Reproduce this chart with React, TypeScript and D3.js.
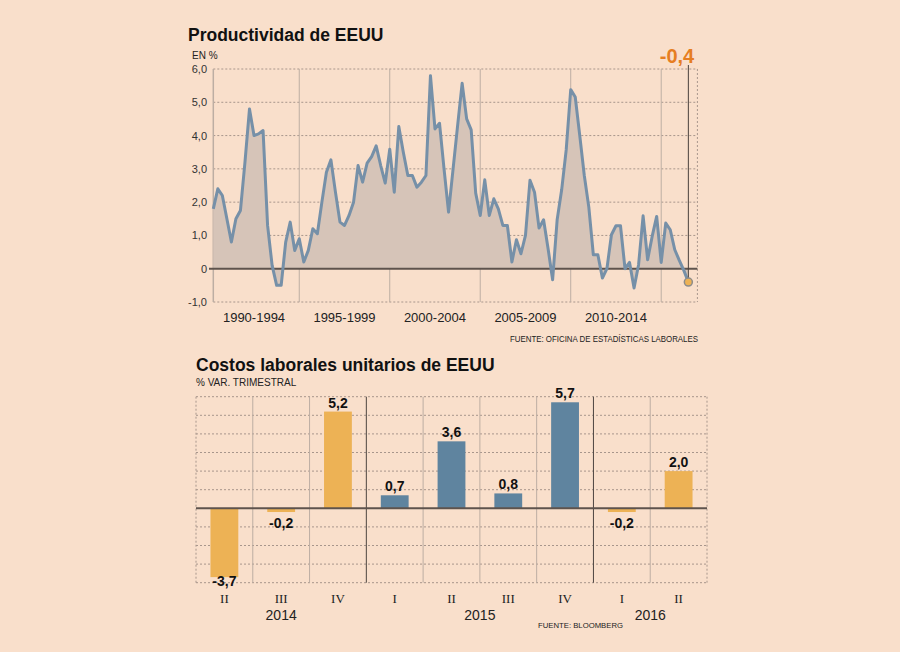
import React from "react";
import * as d3 from "d3";

// ---------- DATA ----------
// Productividad de EEUU, quarterly, from 1990 Q1 to 2016 Q2 (% )
const prodStartYear = 1990;
const productividad = [
  1.8, 2.4, 2.2, 1.5, 0.8, 1.5, 1.75, 3.2, 4.8, 4.0, 4.05, 4.15, 1.3, 0.1, -0.5, -0.5, 0.8, 1.4, 0.55, 0.9,
  0.2, 0.55, 1.2, 1.05, 2.0, 2.9, 3.27, 2.3, 1.4, 1.3, 1.6, 2.0, 3.1, 2.6, 3.17, 3.37, 3.69, 3.1, 2.57, 3.59,
  2.3, 4.27, 3.5, 2.8, 2.8, 2.45, 2.6, 2.8, 5.8, 4.2, 4.37, 3.0, 1.7, 3.0, 4.3, 5.57, 4.5, 4.17, 2.27, 1.6,
  2.67, 1.6, 2.1, 1.8, 1.3, 1.3, 0.2, 0.87, 0.45, 1.0, 2.66, 2.3, 1.22, 1.47, 0.6, -0.33, 1.47, 2.37, 3.57, 5.38,
  5.16, 4.0, 2.8, 1.85, 0.42, 0.42, -0.28, 0.0, 1.02, 1.29, 1.29, 0.0, 0.19, -0.58, 0.12, 1.59, 0.27, 0.97, 1.57, 0.19,
  1.37, 1.17, 0.57, 0.25, -0.05, -0.4,
];
const periodStarts = [1990, 1995, 2000, 2005, 2010];
const periodLabels = ["1990-1994", "1995-1999", "2000-2004", "2005-2009", "2010-2014"];
const periodBoundaries = [1995, 2000, 2005, 2010, 2015];
const prodTicks = [6, 5, 4, 3, 2, 1, 0, -1];
const prodTickLabels = ["6,0", "5,0", "4,0", "3,0", "2,0", "1,0", "0", "-1,0"];

// Costos laborales unitarios de EEUU (% var. trimestral)
const costQuarters = ["II", "III", "IV", "I", "II", "III", "IV", "I", "II"];
const costYears = [2014, 2014, 2014, 2015, 2015, 2015, 2015, 2016, 2016];
const costos = [-3.7, -0.2, 5.2, 0.7, 3.6, 0.8, 5.7, -0.2, 2.0];
const costGrid = [-4, -3, -2, -1, 1, 2, 3, 4, 5, 6];
const highlightYear = 2015;

// ---------- STYLE ----------
const BG = "#F9DFCB";
const FONT = "'Liberation Sans', Arial, sans-serif";
const SERIF = "'Liberation Serif', 'Times New Roman', serif";
const GRID = "#A8968C";
const VLINE = "#BDAEA3";
const DARK = "#5E534D";
const LINE = "#7690A8";
const AREA = "#D6C4B8";
const ORANGE = "#EDB255";
const BLUE = "#5F849F";
const HIGHLIGHT = "#E67E22";

const fmt = (v: number) => d3.format(".1f")(v).replace(".", ",").replace("−", "-");

export default function App() {
  // ----- top chart -----
  const tOf = (i: number) => prodStartYear + (i + 1) / 4;
  const xT = d3.scaleLinear().domain([1990.25, 2017]).range([213.3, 697.4]);
  const yT = d3.scaleLinear().domain([-1, 6]).range([302, 69]);
  const left = xT(1990.25);
  const right = xT(2017);
  const area = d3
    .area<number>()
    .x((_, i) => xT(tOf(i)))
    .y0(yT(0))
    .y1((d) => yT(d));
  const line = d3
    .line<number>()
    .x((_, i) => xT(tOf(i)))
    .y((d) => yT(d));
  const lastI = productividad.length - 1;
  const lastX = xT(tOf(lastI));
  const lastY = yT(productividad[lastI]);

  // ----- bottom chart -----
  const idx = costos.map((_, i) => i);
  const xB = d3.scaleBand<number>().domain(idx).range([196, 707]);
  const bw = xB.bandwidth();
  const barW = bw * 0.49;
  const yB = d3.scaleLinear().domain([-4, 6]).range([582.7, 396.7]);
  const years = Array.from(new Set(costYears));
  const yearCenter = (yr: number) =>
    d3.mean(idx.filter((i) => costYears[i] === yr).map((i) => (xB(i) as number) + bw / 2)) as number;
  const yearStarts = idx.filter((i) => i > 0 && costYears[i] !== costYears[i - 1]);

  return (
    <svg
      width={900}
      height={652}
      style={{ position: "absolute", left: 0, top: 0, display: "block" }}
      fontFamily={FONT}
    >
      <rect x={0} y={0} width={900} height={652} fill={BG} />

      {/* ===== TOP CHART ===== */}
      <text x={188} y={41} fontSize={17.5} fontWeight="bold" fill="#111">
        Productividad de EEUU
      </text>
      <text x={192} y={58.5} fontSize={10} fill="#222">
        EN %
      </text>

      {prodTicks
        .filter((t) => t !== 0)
        .map((t) => (
          <line key={"hg" + t} x1={left} x2={right} y1={yT(t)} y2={yT(t)} stroke={GRID} strokeDasharray="2,2" strokeWidth={1} />
        ))}
      <line x1={left} x2={left} y1={yT(6)} y2={yT(-1)} stroke={VLINE} strokeWidth={1.5} />
      {periodBoundaries.map((b) => (
        <line key={"vb" + b} x1={xT(b)} x2={xT(b)} y1={yT(6)} y2={yT(-1)} stroke={VLINE} strokeWidth={1} />
      ))}
      <line x1={right} x2={right} y1={yT(6)} y2={yT(-1)} stroke={GRID} strokeDasharray="2,2" strokeWidth={1} />

      <path d={area(productividad) as string} fill={AREA} />
      <line x1={209} x2={right} y1={yT(0)} y2={yT(0)} stroke={DARK} strokeWidth={2} />
      <path d={line(productividad) as string} fill="none" stroke={LINE} strokeWidth={3} strokeLinejoin="round" />

      {prodTicks.map((t, i) => (
        <text key={"tl" + t} x={207} y={yT(t) + 4} fontSize={11} textAnchor="end" fill="#333">
          {prodTickLabels[i]}
        </text>
      ))}

      {periodStarts.map((s, i) => (
        <text key={"pl" + s} x={xT(s + 2.5)} y={321.5} fontSize={13} textAnchor="middle" fill="#222">
          {periodLabels[i]}
        </text>
      ))}
      <text x={698} y={341.5} fontSize={9.5} textAnchor="end" fill="#222" textLength={188} lengthAdjust="spacingAndGlyphs">
        FUENTE: OFICINA DE ESTADÍSTICAS LABORALES
      </text>

      <line x1={lastX} x2={lastX} y1={65} y2={lastY} stroke="#4A403B" strokeWidth={1} />
      <circle cx={lastX} cy={lastY} r={4} fill={ORANGE} stroke="#8C8C8C" strokeWidth={1.5} />
      <text x={677} y={63} fontSize={20} fontWeight="bold" textAnchor="middle" fill={HIGHLIGHT}>
        {fmt(productividad[lastI])}
      </text>

      {/* ===== BOTTOM CHART ===== */}
      <text x={196} y={371} fontSize={17.5} fontWeight="bold" fill="#111">
        Costos laborales unitarios de EEUU
      </text>
      <text x={196} y={386} fontSize={10} fill="#222">
        % VAR. TRIMESTRAL
      </text>

      {costGrid.map((g) => (
        <line key={"bg" + g} x1={196} x2={707} y1={yB(g)} y2={yB(g)} stroke={GRID} strokeDasharray="2,2" strokeWidth={1} />
      ))}
      {idx.slice(1).map((i) =>
        yearStarts.includes(i) ? null : (
          <line key={"bv" + i} x1={xB(i)} x2={xB(i)} y1={yB(6)} y2={yB(-4)} stroke={VLINE} strokeWidth={1} />
        )
      )}
      <line x1={196} x2={196} y1={yB(6)} y2={yB(-4)} stroke={GRID} strokeDasharray="2,2" strokeWidth={1} />
      <line x1={707} x2={707} y1={yB(6)} y2={yB(-4)} stroke={GRID} strokeDasharray="2,2" strokeWidth={1} />
      {yearStarts.map((i) => (
        <line key={"yd" + i} x1={xB(i)} x2={xB(i)} y1={yB(6)} y2={yB(-4)} stroke="#4D4540" strokeWidth={1} />
      ))}

      {costos.map((v, i) => {
        const cx = (xB(i) as number) + bw / 2;
        return (
          <rect
            key={"bar" + i}
            x={cx - barW / 2}
            y={Math.min(yB(v), yB(0))}
            width={barW}
            height={Math.abs(yB(v) - yB(0))}
            fill={costYears[i] === highlightYear ? BLUE : ORANGE}
          />
        );
      })}
      <line x1={196} x2={707} y1={yB(0)} y2={yB(0)} stroke={DARK} strokeWidth={2} />

      {costos.map((v, i) => {
        const cx = (xB(i) as number) + bw / 2;
        const y = v >= 0 ? yB(v) - 4 : Math.min(yB(v) + 16, 586);
        return (
          <text key={"vl" + i} x={cx} y={y} fontSize={14} fontWeight="bold" textAnchor="middle" fill="#111">
            {fmt(v)}
          </text>
        );
      })}

      {costQuarters.map((q, i) => (
        <text key={"q" + i} x={(xB(i) as number) + bw / 2} y={603} fontSize={13} fontFamily={SERIF} textAnchor="middle" fill="#222">
          {q}
        </text>
      ))}
      {years.map((yr) => (
        <text key={"y" + yr} x={yearCenter(yr)} y={620} fontSize={14} textAnchor="middle" fill="#222">
          {yr}
        </text>
      ))}
      <text x={538} y={628} fontSize={8} fill="#222" textLength={85} lengthAdjust="spacingAndGlyphs">
        FUENTE: BLOOMBERG
      </text>
    </svg>
  );
}
